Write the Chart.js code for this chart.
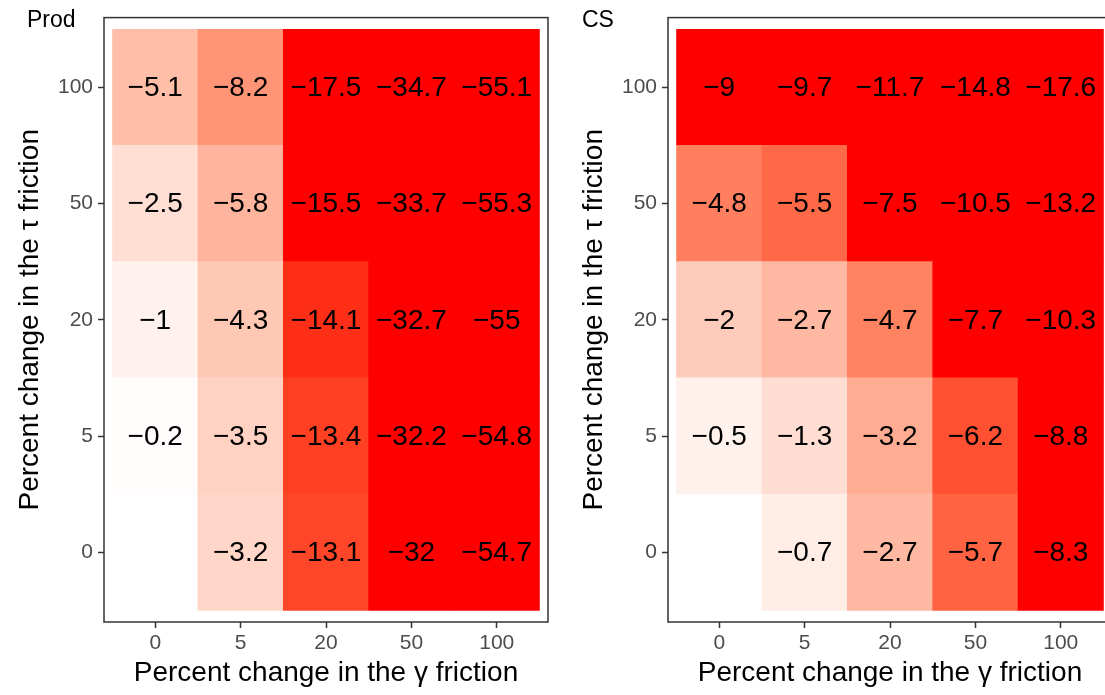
<!DOCTYPE html>
<html>
<head>
<meta charset="utf-8">
<script src="https://cdn.jsdelivr.net/npm/chart.js@4.4.1/dist/chart.umd.min.js"></script>
<style>
  html, body { margin: 0; padding: 0; background: #fff; overflow: hidden; }
  body { width: 1105px; height: 695px; position: relative; font-family: "Liberation Sans", Arial, sans-serif; }
  .panel { position: absolute; top: 0; }
  .panel-title { position: absolute; top: 6px; font-size: 23px; color: #000; }
</style>
</head>
<body>
<div class="panel" style="left:0"><canvas id="prodChart" width="563" height="695"></canvas></div>
<div class="panel" style="left:564px"><canvas id="csChart" width="563" height="695"></canvas></div>
<div class="panel-title" style="left:27px">Prod</div>
<div class="panel-title" style="left:582px">CS</div>
<script>
// categories
const gammaLabels = ["0", "5", "20", "50", "100"];
const tauLabels = ["0", "5", "20", "50", "100"];

// Prod: one array per tau row (bottom to top), columns follow gammaLabels
const prodTau0 = [null, -3.2, -13.1, -32, -54.7];
const prodTau5 = [-0.2, -3.5, -13.4, -32.2, -54.8];
const prodTau20 = [-1, -4.3, -14.1, -32.7, -55];
const prodTau50 = [-2.5, -5.8, -15.5, -33.7, -55.3];
const prodTau100 = [-5.1, -8.2, -17.5, -34.7, -55.1];

// CS
const csTau0 = [null, -0.7, -2.7, -5.7, -8.3];
const csTau5 = [-0.5, -1.3, -3.2, -6.2, -8.8];
const csTau20 = [-2, -2.7, -4.7, -7.7, -10.3];
const csTau50 = [-4.8, -5.5, -7.5, -10.5, -13.2];
const csTau100 = [-9, -9.7, -11.7, -14.8, -17.6];

const FONT = "'Liberation Sans', Arial, sans-serif";

// white -> red gradient, interpolated in Lab like ggplot
function labToRgb(L, a, b) {
  let y = (L + 16) / 116, x = a / 500 + y, z = y - b / 200;
  const f = (t) => (t ** 3 > 0.008856 ? t ** 3 : (t - 16 / 116) / 7.787);
  x = 0.95047 * f(x); y = 1.0 * f(y); z = 1.08883 * f(z);
  let r = x * 3.2406 + y * -1.5372 + z * -0.4986;
  let g = x * -0.9689 + y * 1.8758 + z * 0.0415;
  let bl = x * 0.0557 + y * -0.2040 + z * 1.0570;
  const gam = (c) => (c > 0.0031308 ? 1.055 * Math.pow(c, 1 / 2.4) - 0.055 : 12.92 * c);
  const cl = (c) => Math.max(0, Math.min(255, Math.round(gam(c) * 255)));
  return `rgb(${cl(r)}, ${cl(g)}, ${cl(bl)})`;
}

function fillFor(value, limit) {
  if (value === null) return "rgba(255,255,255,0)";
  const t = Math.min(1, Math.abs(value) / limit);
  return labToRgb(100 - 46.76 * t, 80.09 * t, 67.2 * t);
}

function fmt(v) {
  return v < 0 ? "\u2212" + Math.abs(v) : String(v);
}

const cellLabels = {
  id: "cellLabels",
  afterDatasetsDraw(chart) {
    const ctx = chart.ctx;
    ctx.save();
    ctx.font = `28px ${FONT}`;
    ctx.fillStyle = "#000";
    ctx.textAlign = "center";
    ctx.textBaseline = "middle";
    chart.data.datasets.forEach((ds, i) => {
      const meta = chart.getDatasetMeta(i);
      meta.data.forEach((bar, j) => {
        const v = ds.values[j];
        if (v === null) return;
        ctx.fillText(fmt(v), bar.x, (bar.y + bar.base) / 2 + 1);
      });
    });
    ctx.restore();
  }
};

const panelBorder = {
  id: "panelBorder",
  afterDraw(chart) {
    const { left, top, right, bottom } = chart.chartArea;
    const ctx = chart.ctx;
    ctx.save();
    ctx.strokeStyle = "#333";
    ctx.lineWidth = 1.5;
    ctx.strokeRect(left, top, right - left, bottom - top);
    ctx.restore();
  }
};

function buildHeatmap(id, rows, limit) {
  const datasets = rows.map((row, i) => ({
    values: row,
    // the empty cell keeps its slot so parsing stays on object data
    data: row.map((v, j) => ({ x: j, y: [i - 0.5, i + 0.5] })),
    backgroundColor: row.map((v) => fillFor(v, limit)),
    borderWidth: 0,
    grouped: false,
    barPercentage: 1,
    categoryPercentage: 1
  }));

  const tickFont = { family: FONT, size: 21 };
  const titleFont = { family: FONT, size: 28 };

  return new Chart(document.getElementById(id), {
    type: "bar",
    data: { datasets },
    options: {
      responsive: false,
      animation: false,
      layout: { padding: { top: 16, right: 15, left: 0, bottom: 0 } },
      plugins: { legend: { display: false }, tooltip: { enabled: false } },
      scales: {
        x: {
          type: "linear",
          offset: false,
          min: -0.6,
          max: 4.6,
          afterBuildTicks: (s) => { s.ticks = gammaLabels.map((_, k) => ({ value: k })); },
          afterFit: (s) => { s.height = 73; },
          ticks: {
            autoSkip: false,
            maxRotation: 0,
            color: "#4d4d4d",
            font: tickFont,
            padding: 3,
            callback: (v) => gammaLabels[v]
          },
          grid: { offset: false, drawOnChartArea: false, drawTicks: true, tickLength: 6, tickColor: "#333", tickWidth: 1.5 },
          border: { display: false },
          title: { display: true, text: "Percent change in the \u03b3 friction", color: "#000", font: titleFont, padding: { top: 0, bottom: 5 } }
        },
        y: {
          type: "linear",
          min: -0.6,
          max: 4.6,
          afterBuildTicks: (s) => { s.ticks = tauLabels.map((_, k) => ({ value: k })); },
          afterFit: (s) => { s.width = 104; },
          ticks: {
            autoSkip: false,
            color: "#4d4d4d",
            font: tickFont,
            padding: 5,
            callback: (v) => tauLabels[v]
          },
          grid: { drawOnChartArea: false, drawTicks: true, tickLength: 6, tickColor: "#333", tickWidth: 1.5 },
          border: { display: false },
          title: { display: true, text: "Percent change in the \u03c4 friction", color: "#000", font: titleFont, padding: { top: 13, bottom: 0 } }
        }
      }
    },
    plugins: [cellLabels, panelBorder]
  });
}

buildHeatmap("prodChart", [prodTau0, prodTau5, prodTau20, prodTau50, prodTau100], 15);
buildHeatmap("csChart", [csTau0, csTau5, csTau20, csTau50, csTau100], 7.4);
</script>
</body>
</html>
